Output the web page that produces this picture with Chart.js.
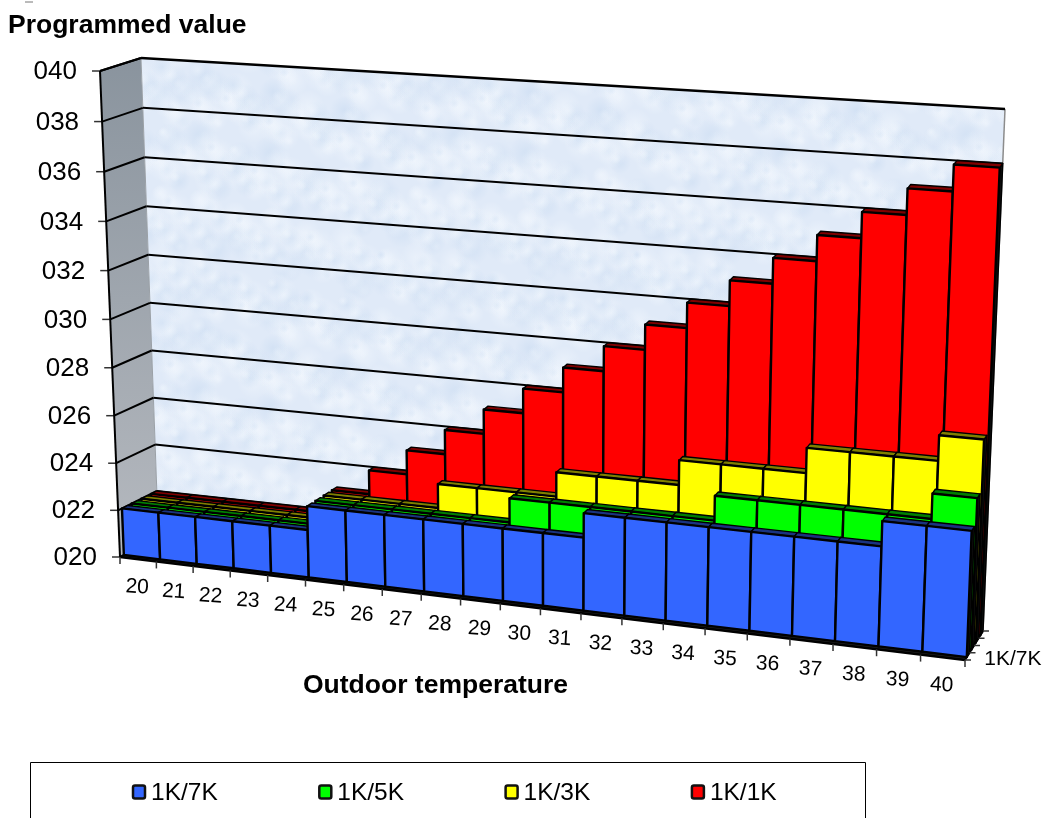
<!DOCTYPE html>
<html>
<head>
<meta charset="utf-8">
<title>Programmed value</title>
<script src="https://cdn.jsdelivr.net/npm/chart.js@4"></script>
<style>
  html, body { margin: 0; padding: 0; background: #fff; overflow: hidden; }
  canvas { display: block; }
</style>
</head>
<body>
<canvas id="graph" width="1045" height="818"></canvas>
<script>
// Values
const temperatures = ['20','21','22','23','24','25','26','27','28','29','30','31','32','33','34','35','36','37','38','39','40'];
const values7K = [22,22,22,22,22,23,23,23,23,23,23,23,24,24,24,24,24,24,24,25,25];
const values5K = [22,22,22,22,22,23,23,23,23,23,24,24,24,24,24,25,25,25,25,25,26];
const values3K = [22,22,22,22,22,23,23,23,24,24,24,25,25,25,26,26,26,27,27,27,28];
const values1K = [22,22,22,22,22,23,24,25,26,27,28,29,30,31,32,33,34,35,36,37,38];
const seriesNames = ['1K/7K', '1K/5K', '1K/3K', '1K/1K'];
const faceColors = ['#3366ff', '#00ff00', '#ffff00', '#ff0000'];
const topColors = ['#1a3380', '#008000', '#808000', '#800000'];

const FONT = '"Liberation Sans", Arial, sans-serif';

// Corners of the 3D box on screen (tl, tr, br, bl)
const frontQuad = [[100, 71], [985, 136], [965, 660], [120, 557]];
const backQuad = [[141, 58], [1005, 109], [983, 631], [158.5, 537]];

// Homography from the unit square to a quad
function makeHomography(q) {
  const [p0, p1, p2, p3] = [q[3], q[2], q[1], q[0]];
  const dx1 = p1[0] - p2[0], dx2 = p3[0] - p2[0], sx = p0[0] - p1[0] + p2[0] - p3[0];
  const dy1 = p1[1] - p2[1], dy2 = p3[1] - p2[1], sy = p0[1] - p1[1] + p2[1] - p3[1];
  const den = dx1 * dy2 - dx2 * dy1;
  const g = (sx * dy2 - dx2 * sy) / den;
  const h = (dx1 * sy - sx * dy1) / den;
  const a = p1[0] - p0[0] + g * p1[0], b = p3[0] - p0[0] + h * p3[0];
  const d = p1[1] - p0[1] + g * p1[1], e = p3[1] - p0[1] + h * p3[1];
  return (u, v) => {
    const w = g * u + h * v + 1;
    return [(a * u + b * v + p0[0]) / w, (d * u + e * v + p0[1]) / w];
  };
}
const frontPlane = makeHomography(frontQuad);
const backPlane = makeHomography(backQuad);

// u along temperature, v along value, d along the series depth
function project(u, v, d) {
  const uw = u - 0.024 * u * (1 - u); // a bit more foreshortening along x
  const f = frontPlane(uw, v), b = backPlane(uw, v);
  return [f[0] + (b[0] - f[0]) * d, f[1] + (b[1] - f[1]) * d];
}

function poly(ctx, pts, fill, stroke, lw) {
  ctx.beginPath();
  pts.forEach((p, i) => i ? ctx.lineTo(p[0], p[1]) : ctx.moveTo(p[0], p[1]));
  ctx.closePath();
  if (fill) { ctx.fillStyle = fill; ctx.fill(); }
  if (stroke) { ctx.strokeStyle = stroke; ctx.lineWidth = lw; ctx.lineJoin = 'round'; ctx.stroke(); }
}

function line(ctx, a, b, color, lw) {
  ctx.beginPath();
  ctx.moveTo(a[0], a[1]);
  ctx.lineTo(b[0], b[1]);
  ctx.strokeStyle = color;
  ctx.lineWidth = lw;
  ctx.stroke();
}

// Mottled texture of the back wall
function wallPattern(ctx) {
  const c = document.createElement('canvas');
  c.width = c.height = 256;
  const t = c.getContext('2d');
  t.fillStyle = '#e0eaf8';
  t.fillRect(0, 0, 256, 256);
  for (let i = 0; i < 420; i++) {
    const r = 5 + (i % 5) * 3;
    const col = i % 3 === 0 ? '196,216,240' : '246,250,255';
    // repeated around the edges so the tile has no seams
    [-256, 0, 256].forEach(ox => [-256, 0, 256].forEach(oy => {
      const x = (i * 73) % 256 + ox, y = (i * 137 + (i % 7) * 11) % 256 + oy;
      const g = t.createRadialGradient(x, y, 0, x, y, r);
      g.addColorStop(0, 'rgba(' + col + ',0.45)');
      g.addColorStop(1, 'rgba(' + col + ',0)');
      t.fillStyle = g;
      t.fillRect(x - r, y - r, r * 2, r * 2);
    }));
  }
  return ctx.createPattern(c, 'repeat');
}

const scene3d = {
  id: 'scene3d',
  beforeDatasetsDraw(chart) {
    const ctx = chart.ctx, yScale = chart.scales.y;
    const area = chart.chartArea;
    const vOf = y => (area.bottom - y) / (area.bottom - area.top);

    // Floor
    poly(ctx, [project(0,0,0), project(1,0,0), project(1,0,1), project(0,0,1)], '#222');

    // Left wall
    const wl = [project(0,1,0), project(0,1,1), project(0,0,1), project(0,0,0)];
    const grad = ctx.createLinearGradient(0, 60, 0, 540);
    grad.addColorStop(0, '#8a949e');
    grad.addColorStop(1, '#b4b8be');
    poly(ctx, wl, grad);

    // Back wall
    const wb = [project(0,1,1), project(1,1,1), project(1,0,1), project(0,0,1)];
    poly(ctx, wb, wallPattern(ctx));
    line(ctx, project(1,1,1), project(1,0,1), '#8c8c8c', 1.5);
    line(ctx, project(0,1,1), project(0,0,1), '#9aa0a6', 1);

    // Gridlines and y ticks
    ctx.font = '26px ' + FONT;
    ctx.textAlign = 'right';
    ctx.textBaseline = 'middle';
    yScale.ticks.forEach(tick => {
      const v = vOf(yScale.getPixelForValue(tick.value));
      const a = project(0, v, 0), b = project(0, v, 1), c = project(1, v, 1);
      if (v < 0.99) line(ctx, b, c, '#000', 2);
      line(ctx, a, b, '#000', 2);
      line(ctx, [a[0] - 8, a[1]], a, '#333', 1.5);
      ctx.fillStyle = '#000';
      ctx.fillText(tick.label, a[0] - 23, a[1] + 1);
    });
    line(ctx, project(0,1,1), project(1,1,1), '#000', 2.5);
    line(ctx, project(0,1,0), project(0,1,1), '#000', 2);
    line(ctx, project(0,1,0), project(0,0,0), '#000', 2);
  },

  // The flat bars are replaced by boxes below
  beforeDatasetDraw() {
    return false;
  },

  afterDatasetsDraw(chart) {
    const ctx = chart.ctx, area = chart.chartArea;
    const w = area.right - area.left, h = area.bottom - area.top;
    const n = chart.data.datasets.length;

    // Floor front edge
    line(ctx, project(0,0,0), project(1,0,0), '#000', 2.5);

    for (let s = n - 1; s >= 0; s--) {
      const d0 = (s + 0.4) / n, d1 = (s + 1) / n;
      chart.getDatasetMeta(s).data.forEach(el => {
        const u0 = (el.x - el.width / 2 - area.left) / w;
        const u1 = (el.x + el.width / 2 - area.left) / w;
        const vt = (area.bottom - el.y) / h;
        const vb = 0; // bars stand on the axis minimum
        // right side, top, front
        poly(ctx, [project(u1,vt,d0), project(u1,vt,d1), project(u1,vb,d1), project(u1,vb,d0)], '#111', '#000', 1.5);
        poly(ctx, [project(u0,vt,d0), project(u1,vt,d0), project(u1,vt,d1), project(u0,vt,d1)], topColors[s], '#000', 1.4);
        poly(ctx, [project(u0,vt,d0), project(u1,vt,d0), project(u1,vb,d0), project(u0,vb,d0)], faceColors[s], '#000', 2.4);
      });
    }

    // x ticks and labels
    const xScale = chart.scales.x;
    ctx.font = '21px ' + FONT;
    ctx.textAlign = 'center';
    ctx.textBaseline = 'middle';
    temperatures.forEach((t, i) => {
      const uc = (xScale.getPixelForValue(i) - area.left) / w;
      const step = 1 / temperatures.length;
      const a = project(uc - step / 2, 0, 0);
      line(ctx, a, [a[0], a[1] + 7], '#333', 1.5);
      const p = project(uc, 0, 0);
      ctx.save();
      ctx.translate(p[0] - 1, p[1] + 28);
      ctx.rotate(0.06);
      ctx.fillStyle = '#000';
      ctx.fillText(t, 0, 0);
      ctx.restore();
    });
    const last = project(1, 0, 0);
    line(ctx, last, [last[0], last[1] + 7], '#333', 1.5);

    // Depth axis
    line(ctx, project(1,0,0), project(1,0,1), '#000', 2);
    for (let s = 0; s <= n; s++) {
      const a = project(1, 0, s / n);
      line(ctx, a, [a[0] + 6, a[1]], '#333', 1.5);
    }
    const lab = project(1, 0, 0.5 / n);
    ctx.font = '21px ' + FONT;
    ctx.textAlign = 'left';
    ctx.fillStyle = '#000';
    ctx.fillText(seriesNames[0], lab[0] + 17, lab[1] + 3);
  },

  afterDraw(chart) {
    const ctx = chart.ctx;
    // small stray mark at the top
    line(ctx, [25, 2], [33, 2], '#777', 1);

    // Legend, its frame runs off the bottom of the picture
    ctx.strokeStyle = '#000';
    ctx.lineWidth = 1;
    ctx.strokeRect(30.5, 762.5, 835, 80);
    ctx.font = '24.5px ' + FONT;
    ctx.textAlign = 'left';
    ctx.textBaseline = 'middle';
    chart.data.datasets.forEach((ds, i) => {
      const x = 133 + i * 186.3;
      ctx.beginPath();
      ctx.roundRect(x, 785.5, 12, 13, 2);
      ctx.fillStyle = ds.backgroundColor;
      ctx.fill();
      ctx.strokeStyle = '#111';
      ctx.lineWidth = 2.5;
      ctx.stroke();
      ctx.fillStyle = '#000';
      ctx.fillText(ds.label, x + 18, 793);
    });
  }
};

const seriesValues = [values7K, values5K, values3K, values1K];

new Chart(document.getElementById('graph').getContext('2d'), {
  type: 'bar',
  data: {
    labels: temperatures,
    datasets: seriesNames.map((name, i) => ({
      label: name,
      data: seriesValues[i],
      backgroundColor: faceColors[i],
      barPercentage: 1,
      categoryPercentage: 1,
      grouped: false
    }))
  },
  options: {
    responsive: false,
    animation: false,
    layout: { padding: { left: 8, right: 100, top: 10, bottom: 116 } },
    plugins: {
      legend: { display: false },
      tooltip: { enabled: false },
      title: {
        display: true,
        text: 'Programmed value',
        align: 'start',
        color: '#000',
        font: { family: FONT, size: 26.5, weight: 'bold' },
        padding: { top: 0, bottom: 8 }
      }
    },
    scales: {
      x: {
        grid: { display: false },
        border: { display: false },
        ticks: { display: false },
        title: {
          display: true,
          text: 'Outdoor temperature',
          align: 'start',
          color: '#000',
          font: { family: FONT, size: 26.5, weight: 'bold' },
          padding: { top: 10, bottom: 0 }
        }
      },
      y: {
        min: 20,
        max: 40,
        afterFit: scale => { scale.width = 295; },
        grid: { display: false },
        border: { display: false },
        ticks: {
          display: false,
          stepSize: 2,
          callback: value => '0' + value
        }
      }
    }
  },
  plugins: [scene3d]
});
</script>
</body>
</html>
